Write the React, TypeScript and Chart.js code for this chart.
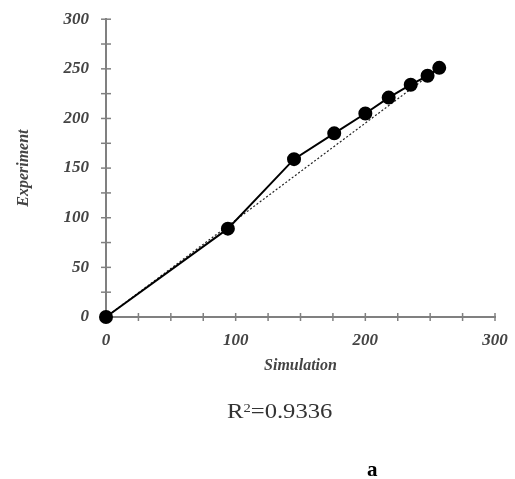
import React, { useEffect, useRef } from "react";
import { Chart, registerables } from "chart.js";

Chart.register(...registerables);

const simulation = [0, 94, 145, 176, 200, 218, 235, 248, 257];
const experiment = [0, 89, 159, 185, 205, 221, 234, 243, 251];
const trendX = [0, 257];
const trendY = [0, 251];
const xTickLabels = [0, 100, 200, 300];
const yTickLabels = [0, 50, 100, 150, 200, 250, 300];

const AXIS_COLOR = "#808080";
const LABEL_COLOR = "#444";
const FONT = "'Liberation Serif', 'DejaVu Serif', serif";

const crossTicks = {
  id: "crossTicks",
  afterDraw(chart: any) {
    const { ctx, scales } = chart;
    const xs = scales.x;
    const ys = scales.y;
    ctx.save();
    ctx.strokeStyle = AXIS_COLOR;
    ctx.lineWidth = 1.5;
    const y0 = ys.getPixelForValue(0);
    const x0 = xs.getPixelForValue(0);
    for (let v = 25; v <= 300; v += 25) {
      const px = xs.getPixelForValue(v);
      ctx.beginPath();
      ctx.moveTo(px, y0 - 4);
      ctx.lineTo(px, y0 + 4);
      ctx.stroke();
      const py = ys.getPixelForValue(v);
      ctx.beginPath();
      ctx.moveTo(x0 - 5, py);
      ctx.lineTo(x0 + 5, py);
      ctx.stroke();
    }
    ctx.restore();
  },
};

export default function App() {
  const ref = useRef<HTMLCanvasElement>(null);
  useEffect(() => {
    if (!ref.current) return;
    const chart = new Chart(ref.current, {
      type: "scatter",
      data: {
        datasets: [
          {
            data: simulation.map((x, i) => ({ x, y: experiment[i] })),
            showLine: true,
            borderColor: "#000",
            borderWidth: 2,
            backgroundColor: "#000",
            pointRadius: 6,
            pointHoverRadius: 6,
            clip: false,
            order: 1,
          },
          {
            data: trendX.map((x, i) => ({ x, y: trendY[i] })),
            showLine: true,
            borderColor: "#222",
            borderWidth: 1.2,
            borderDash: [2, 2],
            pointRadius: 0,
            order: 2,
          },
        ],
      },
      options: {
        animation: false,
        responsive: false,
        events: [],
        layout: { padding: { left: 8, top: 4, right: 20, bottom: 104 } },
        plugins: { legend: { display: false }, tooltip: { enabled: false } },
        scales: {
          x: {
            type: "linear",
            min: 0,
            max: 300,
            afterBuildTicks: (s: any) => {
              s.ticks = xTickLabels.map((v) => ({ value: v }));
            },
            afterFit: (s: any) => {
              s.height = 58;
            },
            grid: { display: false },
            border: { display: true, color: AXIS_COLOR, width: 2 },
            ticks: {
              color: LABEL_COLOR,
              padding: 5,
              maxRotation: 0,
              font: { family: FONT, size: 17, style: "italic", weight: "bold" },
            },
            title: {
              display: true,
              text: "Simulation",
              color: LABEL_COLOR,
              padding: { top: 4, bottom: 0 },
              font: { family: FONT, size: 16, style: "italic", weight: "bold" },
            },
          },
          y: {
            type: "linear",
            min: 0,
            max: 300,
            afterBuildTicks: (s: any) => {
              s.ticks = yTickLabels.map((v) => ({ value: v }));
            },
            afterFit: (s: any) => {
              s.width = 98;
            },
            grid: { display: false },
            border: { display: true, color: AXIS_COLOR, width: 2 },
            ticks: {
              color: LABEL_COLOR,
              padding: 9,
              font: { family: FONT, size: 17, style: "italic", weight: "bold" },
            },
            title: {
              display: true,
              text: "Experiment",
              color: LABEL_COLOR,
              padding: { top: 6, bottom: 0 },
              font: { family: FONT, size: 16, style: "italic", weight: "bold" },
            },
          },
        },
      },
      plugins: [crossTicks],
    });
    return () => chart.destroy();
  }, []);

  return (
    <div style={{ position: "absolute", left: 0, top: 0, width: 515, height: 479, background: "#fff" }}>
      <canvas ref={ref} width={515} height={479} style={{ position: "absolute", left: 0, top: 0 }} />
      <div
        style={{
          position: "absolute",
          left: 227,
          top: 398,
          fontFamily: FONT,
          fontSize: 22,
          color: "#333",
          lineHeight: "26px",
          whiteSpace: "nowrap",
          transform: "scaleX(1.12)",
          transformOrigin: "left center",
        }}
      >
        R<sup style={{ fontSize: 13, verticalAlign: "top", lineHeight: "20px" }}>2</sup>=0.9336
      </div>
      <div
        style={{
          position: "absolute",
          left: 367,
          top: 457,
          fontFamily: FONT,
          fontSize: 21,
          fontWeight: "bold",
          color: "#000",
          lineHeight: "24px",
        }}
      >
        a
      </div>
    </div>
  );
}
